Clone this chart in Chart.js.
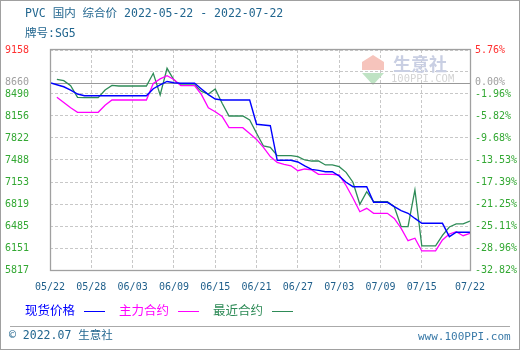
<!DOCTYPE html>
<html><head><meta charset="utf-8">
<script src="https://cdn.jsdelivr.net/npm/chart.js@4.4.1/dist/chart.umd.min.js"></script>
<style>
html,body{margin:0;padding:0;background:#fff;}
#wrap{position:relative;width:520px;height:350px;overflow:hidden;font-family:"DejaVu Sans Mono","Noto Sans CJK SC",monospace;}
#c{position:absolute;left:0;top:0;}
.t{position:absolute;white-space:nowrap;line-height:1;}
.ln{position:absolute;height:1px;}
#border{position:absolute;left:0;top:0;width:520px;height:350px;box-sizing:border-box;border:1px solid #a0a0a0;pointer-events:none;}
</style></head>
<body><div id="wrap">
<canvas id="c" width="520" height="350"></canvas>
<div class="t" style="left:25px;top:8px;font-size:11.5px;color:#22668f;">PVC 国内 综合价 2022-05-22 - 2022-07-22</div>
<div class="t" style="left:25px;top:28px;font-size:11.5px;color:#22668f;">牌号:SG5</div>
<div class="t" style="left:25px;top:304px;font-size:12.5px;color:#0000ff;font-family:'Noto Sans CJK SC';">现货价格</div>
<div class="ln" style="left:84px;top:311px;width:21px;background:#0000ff;"></div>
<div class="t" style="left:119px;top:304px;font-size:12.5px;color:#ff00ff;font-family:'Noto Sans CJK SC';">主力合约</div>
<div class="ln" style="left:178px;top:311px;width:21px;background:#ff00ff;"></div>
<div class="t" style="left:213px;top:304px;font-size:12.5px;color:#2e8b57;font-family:'Noto Sans CJK SC';">最近合约</div>
<div class="ln" style="left:272px;top:311px;width:21px;background:#2e8b57;"></div>
<div class="ln" style="left:10px;top:326px;width:500px;background:#aaaaaa;"></div>
<div class="t" style="left:9px;top:330px;font-size:11.5px;color:#22668f;">© 2022.07 生意社</div>
<div class="t" style="left:418px;top:331px;font-size:11px;color:#3a7aa8;">www.100PPI.com</div>
<div id="border"></div>
</div>
<script>
// ---- data ----
const dayTicks = [0, 6, 12, 18, 24, 30, 36, 42, 48, 54, 61];
const dayLabels = ['05/22','05/28','06/03','06/09','06/15','06/21','06/27','07/03','07/09','07/15','07/22'];
const leftTickValues = [5817, 6151, 6485, 6819, 7153, 7488, 7822, 8156, 8490, 8660, 8824, 9158];
const leftTickLabels = ['5817','6151','6485','6819','7153','7488','7822','8156','8490','8660','','9158'];
const rightTickLabels = ['-32.82%','-28.96%','-25.11%','-21.25%','-17.39%','-13.53%','-9.68%','-5.82%','-1.96%','0.00%','','5.76%'];
const baseValue = 8660;
const yMin = 5817, yMax = 9158;

const spotPrice = [8660,8630,8600,8550,8490,8464,8464,8464,8464,8464,8464,8464,8464,8464,8464,8570,8630,8680,8660,8652,8652,8652,8566,8480,8414,8399,8399,8399,8399,8399,8030,8020,8008,7483,7483,7483,7457,7400,7346,7330,7310,7310,7245,7150,7082,7082,7082,6845,6845,6845,6780,6720,6678,6600,6526,6526,6526,6526,6323,6390,6390,6390];
const mainContract = [null,8440,8360,8280,8212,8212,8212,8212,8320,8399,8399,8399,8399,8399,8399,8650,8720,8768,8710,8616,8616,8616,8480,8280,8221,8150,7978,7978,7978,7890,7800,7680,7540,7450,7422,7400,7325,7351,7336,7270,7270,7270,7260,7100,6910,6702,6754,6678,6678,6678,6600,6450,6262,6299,6106,6106,6106,6273,6364,6399,6338,6375];
const nearContract = [null,8713,8692,8615,8440,8434,8434,8434,8551,8620,8611,8611,8611,8611,8611,8804,8475,8880,8700,8627,8627,8627,8530,8490,8566,8350,8156,8156,8156,8095,7893,7700,7680,7553,7553,7553,7538,7488,7472,7472,7412,7412,7386,7300,7150,6815,7006,6854,6854,6854,6778,6475,6475,7032,6182,6182,6182,6343,6470,6516,6516,6561];

const toPts = arr => arr.map((v, i) => ({x: i, y: v}));

function labelColor(v) {
  if (v === yMax) return '#ff3030';
  if (v === baseValue) return '#a0a0a0';
  return '#33a833';
}

const framePlugin = {
  id: 'frame',
  beforeDatasetsDraw(chart) {
    const {ctx, chartArea: a} = chart;
    ctx.save();
    // watermark
    ctx.fillStyle = '#f6c4bc';
    ctx.beginPath();
    ctx.moveTo(373, 55); ctx.lineTo(384, 62); ctx.lineTo(384, 70); ctx.lineTo(362, 70); ctx.lineTo(362, 62); ctx.closePath();
    ctx.fill();
    ctx.fillStyle = '#bfe3c4';
    ctx.beginPath();
    ctx.moveTo(362, 73); ctx.lineTo(384, 73); ctx.lineTo(373, 85); ctx.closePath();
    ctx.fill();
    ctx.fillStyle = '#c9cfe3';
    ctx.font = 'bold 18px "Noto Sans CJK SC"';
    ctx.textBaseline = 'middle';
    ctx.fillText('生意社', 393, 64);
    ctx.fillStyle = '#d4d4d4';
    ctx.font = '10.5px "DejaVu Sans Mono"';
    ctx.fillText('100PPI.COM', 391, 79);
    // baseline (0.00%)
    const yb = Math.round(chart.scales.y.getPixelForValue(baseValue)) + 0.5;
    ctx.strokeStyle = '#999999';
    ctx.lineWidth = 1.2;
    ctx.beginPath(); ctx.moveTo(a.left, yb); ctx.lineTo(a.right, yb); ctx.stroke();
    ctx.restore();
  },
  afterDatasetsDraw(chart) {
    const {ctx, chartArea: a} = chart;
    ctx.save();
    ctx.strokeStyle = '#a0a0a0';
    ctx.lineWidth = 1.3;
    ctx.strokeRect(Math.round(a.left) + 0.5, Math.round(a.top) - 0.5, Math.round(a.right - a.left), Math.round(a.bottom - a.top) + 1);
    ctx.restore();
  }
};

new Chart(document.getElementById('c'), {
  type: 'line',
  data: {
    datasets: [
      {label: '现货价格', data: toPts(spotPrice), borderColor: '#0000ff', borderWidth: 1.4},
      {label: '主力合约', data: toPts(mainContract), borderColor: '#ff00ff', borderWidth: 1.3},
      {label: '最近合约', data: toPts(nearContract), borderColor: '#2e8b57', borderWidth: 1.3}
    ]
  },
  options: {
    responsive: false,
    animation: false,
    devicePixelRatio: 1,
    layout: {padding: {left: 5, top: 50, right: 0, bottom: 0}},
    elements: {point: {radius: 0}, line: {tension: 0}},
    plugins: {legend: {display: false}, tooltip: {enabled: false}},
    scales: {
      x: {
        type: 'linear', min: 0, max: 61,
        afterBuildTicks: s => { s.ticks = dayTicks.map(v => ({value: v})); },
        afterFit: s => { s.height = 80; },
        grid: {color: '#c8c8c8', lineWidth: 1, drawTicks: false},
        border: {display: false, dash: [3, 2]},
        ticks: {
          autoSkip: false, maxRotation: 0, padding: 11,
          color: '#1f5f8b', font: {family: 'DejaVu Sans Mono', size: 10},
          callback: (v, i) => dayLabels[i]
        }
      },
      y: {
        type: 'linear', position: 'left', min: yMin, max: yMax,
        afterBuildTicks: s => { s.ticks = leftTickValues.map(v => ({value: v})); },
        afterFit: s => { s.width = 45; },
        grid: {
          drawTicks: false,
          color: c => (c.tick && c.tick.value === baseValue) ? 'rgba(0,0,0,0)' : '#c8c8c8',
          lineWidth: 1
        },
        border: {display: false, dash: [3, 2]},
        ticks: {
          crossAlign: 'far', padding: 0,
          font: {family: 'DejaVu Sans Mono', size: 10},
          color: c => labelColor(c.tick.value),
          callback: (v, i) => leftTickLabels[i]
        }
      },
      y2: {
        type: 'linear', position: 'right', min: yMin, max: yMax,
        afterBuildTicks: s => { s.ticks = leftTickValues.map(v => ({value: v})); },
        afterFit: s => { s.width = 50; },
        grid: {display: false, drawTicks: false},
        border: {display: false},
        ticks: {
          padding: 5,
          font: {family: 'DejaVu Sans Mono', size: 10},
          color: c => labelColor(c.tick.value),
          callback: (v, i) => rightTickLabels[i]
        }
      }
    }
  },
  plugins: [framePlugin]
});
</script>
</body></html>
